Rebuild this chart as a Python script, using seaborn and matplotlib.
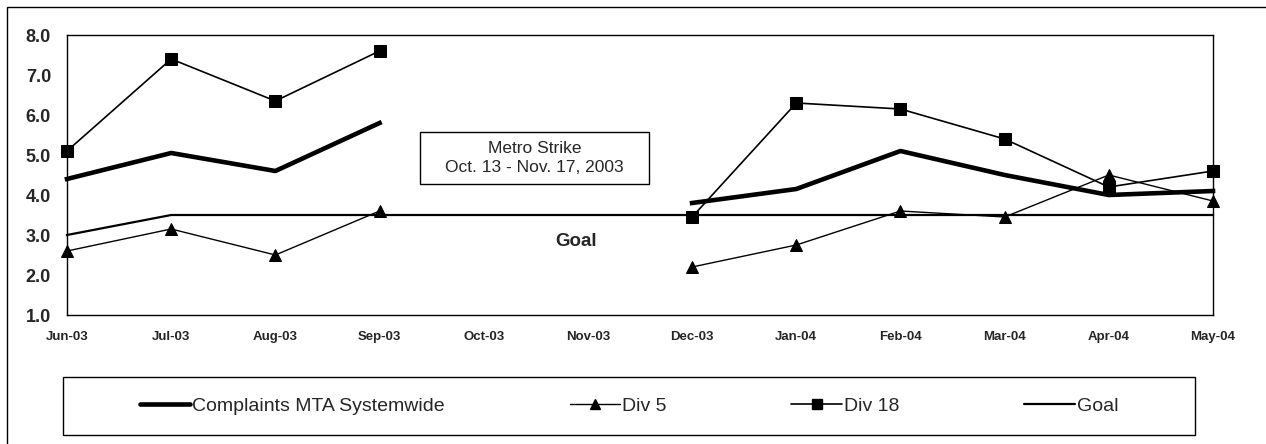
import numpy as np
import pandas as pd
import matplotlib
matplotlib.use("Agg")
import matplotlib.pyplot as plt
import seaborn as sns

# Monthly values (Oct/Nov 03 missing because of the strike)
months = ['Jun-03', 'Jul-03', 'Aug-03', 'Sep-03', 'Oct-03', 'Nov-03',
          'Dec-03', 'Jan-04', 'Feb-04', 'Mar-04', 'Apr-04', 'May-04']
systemwide = [4.4, 5.05, 4.6, 5.8, np.nan, np.nan, 3.8, 4.15, 5.1, 4.5, 4.0, 4.1]
div5 = [2.6, 3.15, 2.5, 3.6, np.nan, np.nan, 2.2, 2.75, 3.6, 3.45, 4.5, 3.85]
div18 = [5.1, 7.4, 6.35, 7.6, np.nan, np.nan, 3.45, 6.3, 6.15, 5.4, 4.2, 4.6]
goal = [3.0, 3.5, 3.5, 3.5, 3.5, 3.5, 3.5, 3.5, 3.5, 3.5, 3.5, 3.5]

series_names = ['Complaints MTA Systemwide', 'Div 5', 'Div 18', 'Goal']
series_values = [systemwide, div5, div18, goal]
styles = {
    'Complaints MTA Systemwide': dict(lw=3.3, marker=None, ms=0),
    'Div 5': dict(lw=1.0, marker='^', ms=9),
    'Div 18': dict(lw=1.2, marker='s', ms=9),
    'Goal': dict(lw=1.6, marker=None, ms=0),
}

W, H = 1266, 444

sns.set_style('white')
plt.rcParams['font.family'] = ['Liberation Sans', 'DejaVu Sans']

fig = plt.figure(figsize=(W / 100, H / 100), dpi=100)
ax = fig.add_axes([67 / W, 1 - 315 / H, (1213 - 67) / W, 280 / H])

handles = []
for name, vals in zip(series_names, series_values):
    df = pd.DataFrame({'x': np.arange(len(months)), 'y': vals})
    # split into contiguous segments so the strike gap stays open
    df['seg'] = df['y'].isna().cumsum()
    df = df.dropna()
    st = styles[name]
    for _, seg in df.groupby('seg'):
        sns.lineplot(data=seg, x='x', y='y', ax=ax, color='black',
                     linewidth=st['lw'], marker=st['marker'],
                     markersize=st['ms'], markeredgecolor='black',
                     solid_capstyle='projecting', legend=False, sort=False,
                     clip_on=False)
    handles.append(plt.Line2D([], [], color='black', lw=st['lw'],
                              marker=st['marker'], markersize=st['ms'] * 0.8))

ax.set_xlim(0, len(months) - 1)
ax.set_ylim(1.0, 8.0)
yt = np.arange(1.0, 8.01, 1.0)
ax.set_yticks(yt)
ax.set_yticklabels([f'{v:.1f}' for v in yt], fontsize=13, fontweight='bold')
ax.set_xticks(np.arange(len(months)))
ax.set_xticklabels(months, fontsize=9.5, fontweight='bold')
ax.tick_params(axis='x', direction='out', length=3.5, pad=8, color='black')
ax.tick_params(axis='y', direction='out', length=3.5, pad=8, color='black')
ax.set_xlabel('')
ax.set_ylabel('')
for sp in ax.spines.values():
    sp.set_color('black')
    sp.set_linewidth(1.0)

ax.text(4.89, 2.83, 'Goal', ha='center', va='center', fontsize=13.5,
        fontweight='bold')

# strike annotation box
ax.text(4.49, 4.93, 'Metro Strike\nOct. 13 - Nov. 17, 2003', ha='center',
        va='center', fontsize=12.5, linespacing=1.35, zorder=6)
ax.add_patch(plt.Rectangle((420 / W, 1 - 184 / H), 229 / W, 52 / H,
                           transform=fig.transFigure, facecolor='white',
                           edgecolor='black', linewidth=1.0, zorder=5))

# legend: entries without frame, box drawn separately
fig.legend(handles, series_names, loc='center',
           bbox_to_anchor=(629 / W, 1 - 406 / H), ncol=4,
           fontsize=14, frameon=False, handlelength=2.6,
           handletextpad=0.12, columnspacing=6.4)
fig.patches.append(plt.Rectangle((63 / W, 1 - 435 / H), (1195 - 63) / W, 58 / H,
                                 transform=fig.transFigure, fill=False,
                                 edgecolor='black', linewidth=1.0))

# outer chart border (top and left visible)
fig.patches.append(plt.Rectangle((7 / W, -0.1), 1.2, 1.1 - 7 / H,
                                 transform=fig.transFigure, fill=False,
                                 edgecolor='black', linewidth=1.0))

fig.savefig('out.png', dpi=100)
